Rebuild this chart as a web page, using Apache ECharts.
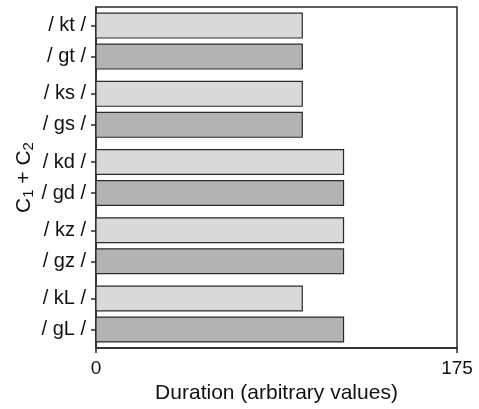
<!DOCTYPE html>
<html>
<head>
<meta charset="utf-8">
<style>html,body{margin:0;padding:0;background:#fff;}#c{width:479px;height:409px;}</style>
<script src="https://cdn.jsdelivr.net/npm/echarts@6/dist/echarts.min.js"></script>
</head>
<body>
<div id="c"></div>
<script>
// Data
var categories = ['/ kt /', '/ gt /', '/ ks /', '/ gs /', '/ kd /', '/ gd /', '/ kz /', '/ gz /', '/ kL /', '/ gL /'];
var voicing = ['k', 'g', 'k', 'g', 'k', 'g', 'k', 'g', 'k', 'g'];
var durations = [100, 100, 100, 100, 120, 120, 120, 120, 100, 120];
var xTicks = [0, 175];

// Layout: bars come in pairs; pair spacing larger than within-pair spacing
var PAIR_PERIOD = 2.2;
var positions = categories.map(function (c, i) { return Math.floor(i / 2) * PAIR_PERIOD + (i % 2); });
var colors = { k: '#d9d9d9', g: '#b3b3b3' };

var data = categories.map(function (c, i) { return [durations[i], positions[i], i]; });

var chart = echarts.init(document.getElementById('c'));
var font = 'Liberation Sans, Arial, Helvetica, sans-serif';
chart.setOption({
  animation: false,
  textStyle: { fontFamily: font },
  grid: { left: 96, right: 22, top: 7, bottom: 59, show: true, borderColor: '#2a2a2a', borderWidth: 1.5, backgroundColor: 'transparent' },
  xAxis: {
    type: 'value', min: xTicks[0], max: xTicks[1], interval: xTicks[1] - xTicks[0],
    name: 'Duration (arbitrary values)', nameLocation: 'middle', nameGap: 29,
    nameTextStyle: { fontSize: 21, color: '#111', fontFamily: font },
    axisLine: { show: true, onZero: false, lineStyle: { color: '#2a2a2a', width: 1.5 } },
    axisTick: { show: true, inside: false, length: 5, lineStyle: { color: '#2a2a2a', width: 1.5 } },
    axisLabel: { fontSize: 19, color: '#111', margin: 11, fontFamily: font },
    splitLine: { show: false }
  },
  yAxis: {
    type: 'value', inverse: true, min: -0.6, max: 10.4,
    name: 'C{s|1} + C{s|2}', nameLocation: 'middle', nameRotate: 90, nameGap: 60, nameMoveOverlap: false,
    nameTextStyle: { fontSize: 21, color: '#111', fontFamily: font,
      rich: { s: { fontSize: 15, verticalAlign: 'bottom', padding: [9, 0, 0, 0], color: '#111', fontFamily: font } } },
    axisLine: { show: true, onZero: false, lineStyle: { color: '#2a2a2a', width: 1.5 } },
    axisTick: { show: true, inside: false, length: 5, customValues: positions, lineStyle: { color: '#2a2a2a', width: 1.5 } },
    axisLabel: { fontSize: 20, color: '#111', margin: 10, fontFamily: font, customValues: positions,
      formatter: function (v) {
        for (var i = 0; i < positions.length; i++) { if (Math.abs(positions[i] - v) < 1e-6) return categories[i]; }
        return '';
      } },
    splitLine: { show: false }
  },
  series: [{
    type: 'custom',
    coordinateSystem: 'cartesian2d',
    encode: { x: 0, y: 1 },
    data: data,
    renderItem: function (params, api) {
      var v = api.value(0), p = api.value(1), idx = api.value(2);
      var start = api.coord([0, p]);
      var end = api.coord([v, p]);
      var h = api.size([0, 0.8])[1];
      return {
        type: 'rect',
        shape: { x: start[0], y: start[1] - h / 2, width: end[0] - start[0], height: h },
        style: { fill: colors[voicing[idx]], stroke: '#2a2a2a', lineWidth: 1.2 }
      };
    }
  }]
});
</script>
</body>
</html>
